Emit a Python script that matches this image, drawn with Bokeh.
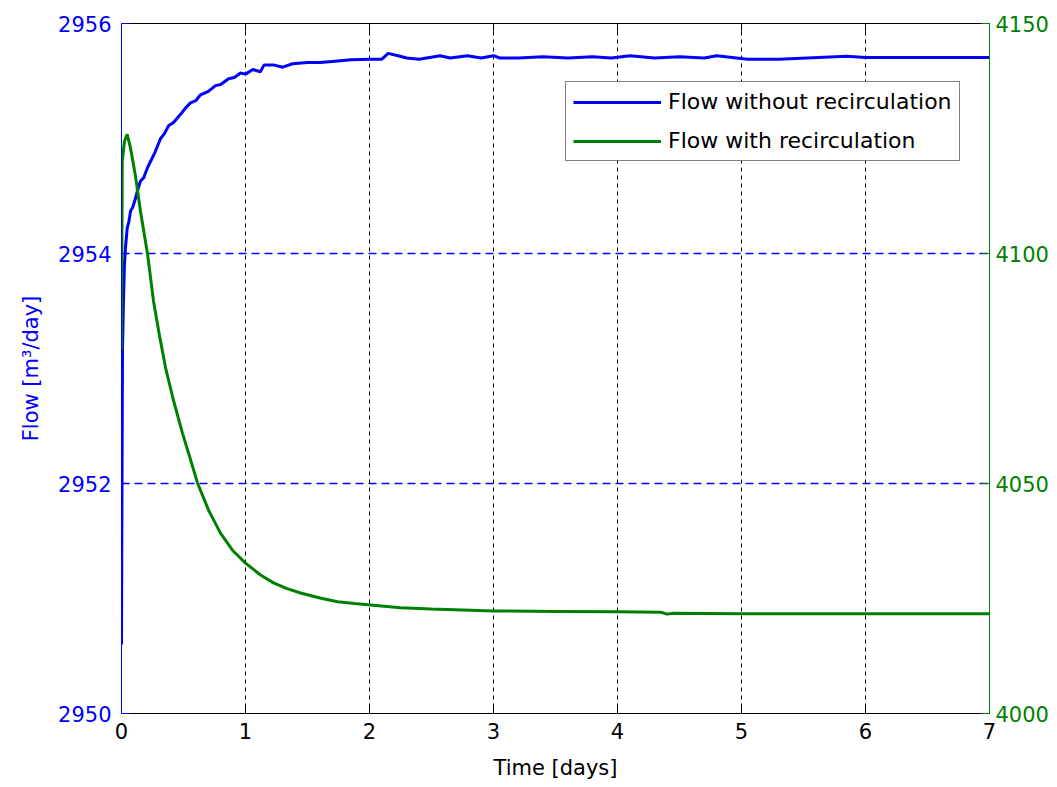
from bokeh.plotting import figure
from bokeh.models import Range1d, LinearAxis, FixedTicker, Legend, LegendItem, Grid
from bokeh.embed import file_html
from bokeh.resources import INLINE

# Time axis in days
time_ticks = [0, 1, 2, 3, 4, 5, 6, 7]
flow_ticks = [2950, 2952, 2954, 2956]
recirc_ticks = [4000, 4050, 4100, 4150]

# Flow without recirculation (left axis, m3/day)
t_plain = [0.000, 0.002, 0.008, 0.016, 0.024, 0.032, 0.046, 0.060, 0.073, 0.090,
           0.113, 0.130, 0.153, 0.180, 0.207, 0.234, 0.270, 0.315, 0.345, 0.379,
           0.420, 0.476, 0.520, 0.556, 0.600, 0.637, 0.700, 0.758, 0.800, 0.863,
           0.910, 0.960, 1.000, 1.060, 1.120, 1.150, 1.226, 1.300, 1.380, 1.500,
           1.600, 1.700, 1.850, 2.000, 2.100, 2.150, 2.230, 2.300, 2.400, 2.570,
           2.650, 2.790, 2.900, 3.000, 3.050, 3.200, 3.400, 3.600, 3.800, 3.950,
           4.100, 4.300, 4.500, 4.700, 4.800, 5.050, 5.300, 5.850, 6.000, 6.500,
           7.000]
flow_plain = [2950.60, 2951.34, 2953.16, 2953.59, 2953.91, 2954.05, 2954.22, 2954.28, 2954.37, 2954.40,
              2954.48, 2954.55, 2954.63, 2954.66, 2954.74, 2954.80, 2954.88, 2955.00, 2955.04, 2955.11,
              2955.14, 2955.21, 2955.27, 2955.31, 2955.33, 2955.38, 2955.41, 2955.46, 2955.47, 2955.52,
              2955.53, 2955.57, 2955.56, 2955.60, 2955.58, 2955.64, 2955.64, 2955.62, 2955.65, 2955.66,
              2955.66, 2955.67, 2955.685, 2955.69, 2955.69, 2955.74, 2955.72, 2955.70, 2955.69, 2955.72,
              2955.70, 2955.72, 2955.70, 2955.72, 2955.70, 2955.70, 2955.71, 2955.70, 2955.71, 2955.70,
              2955.72, 2955.70, 2955.71, 2955.70, 2955.72, 2955.69, 2955.69, 2955.715, 2955.705, 2955.705,
              2955.705]

# Flow with recirculation (right axis, m3/day)
t_recirc = [0.000, 0.006, 0.024, 0.046, 0.073, 0.113, 0.153, 0.210, 0.258, 0.306,
            0.355, 0.419, 0.492, 0.550, 0.613, 0.702, 0.798, 0.895, 1.000, 1.121,
            1.226, 1.330, 1.444, 1.600, 1.742, 1.880, 2.008, 2.250, 2.500, 2.750,
            3.000, 3.500, 4.000, 4.350, 4.400, 4.450, 5.000, 6.000, 7.000]
flow_recirc = [4079.0, 4120.1, 4124.4, 4125.9, 4122.9, 4116.8, 4109.2, 4099.9, 4089.7, 4082.2,
               4075.2, 4068.1, 4060.9, 4055.8, 4050.1, 4044.2, 4039.2, 4035.5, 4032.7, 4030.1,
               4028.4, 4027.2, 4026.2, 4025.1, 4024.3, 4023.9, 4023.6, 4023.0, 4022.7, 4022.5,
               4022.3, 4022.2, 4022.1, 4022.0, 4021.6, 4021.8, 4021.7, 4021.7, 4021.7]

BLUE = "#0000ff"
GREEN = "#008000"
FONT = "DejaVu Sans"
FS = "21px"

p = figure(width=1057, height=787, x_range=Range1d(0, 7), y_range=Range1d(2950, 2956),
           output_backend="svg", toolbar_location=None,
           min_border_left=121, min_border_right=68, min_border_top=23, min_border_bottom=74)
p.outline_line_color = None
p.background_fill_color = "white"
p.border_fill_color = "white"

p.extra_y_ranges = {"recirc": Range1d(4000, 4150)}

# grid lines drawn as span glyphs: blue at inner flow ticks, black at inner day ticks
p.center = [r for r in p.center if not isinstance(r, Grid)]
p.hspan(y=flow_ticks[1:-1], line_color=BLUE, line_dash="8 5", line_width=1.5, level="underlay")
p.vspan(x=time_ticks[1:-1], line_color="black", line_dash="4 4", line_width=1, level="underlay")


def style_axis(ax, color, ticks):
    ax.ticker = FixedTicker(ticks=ticks)
    ax.axis_line_color = color
    ax.major_tick_line_color = color
    ax.major_tick_in = 8
    ax.major_tick_out = 0
    ax.minor_tick_line_color = None
    ax.major_label_text_color = color
    ax.major_label_text_font = FONT
    ax.major_label_text_font_size = FS
    ax.axis_label_text_font = FONT
    ax.axis_label_text_font_size = FS
    ax.axis_label_text_font_style = "normal"


# bottom axis
xa = p.xaxis[0]
style_axis(xa, "black", time_ticks)
xa.axis_label = "Time [days]"
xa.axis_label_text_color = "black"
xa.major_label_standoff = 9
xa.axis_label_standoff = 14

# left axis
ya = p.yaxis[0]
style_axis(ya, BLUE, flow_ticks)
ya.axis_label = "Flow [m³/day]"
ya.axis_label_text_color = BLUE
ya.major_label_standoff = 10
ya.axis_label_standoff = 12

# right axis
ra = LinearAxis(y_range_name="recirc")
style_axis(ra, GREEN, recirc_ticks)
ra.major_label_standoff = 6
p.add_layout(ra, "right")

# top border with inward ticks
ta = LinearAxis()
style_axis(ta, "black", time_ticks)
ta.major_label_overrides = {t: "" for t in time_ticks}
ta.major_label_standoff = 0
p.add_layout(ta, "above")

r_plain = p.line(t_plain, flow_plain, line_color=BLUE, line_width=3)
r_recirc = p.line(t_recirc, flow_recirc, line_color=GREEN, line_width=3, y_range_name="recirc")

legend = Legend(items=[LegendItem(label="Flow without recirculation", renderers=[r_plain]),
                       LegendItem(label="Flow with recirculation", renderers=[r_recirc])],
                location=(444, 552))
legend.label_text_font = FONT
legend.label_text_font_size = "22px"
legend.label_text_color = "black"
legend.border_line_color = "black"
legend.border_line_width = 1
legend.background_fill_color = "white"
legend.background_fill_alpha = 1
legend.padding = 7
legend.spacing = 14
legend.margin = 0
legend.glyph_width = 88
legend.glyph_height = 22
legend.label_height = 22
legend.label_standoff = 7
p.add_layout(legend, "center")

open("out.html", "w").write(file_html(p, INLINE))
